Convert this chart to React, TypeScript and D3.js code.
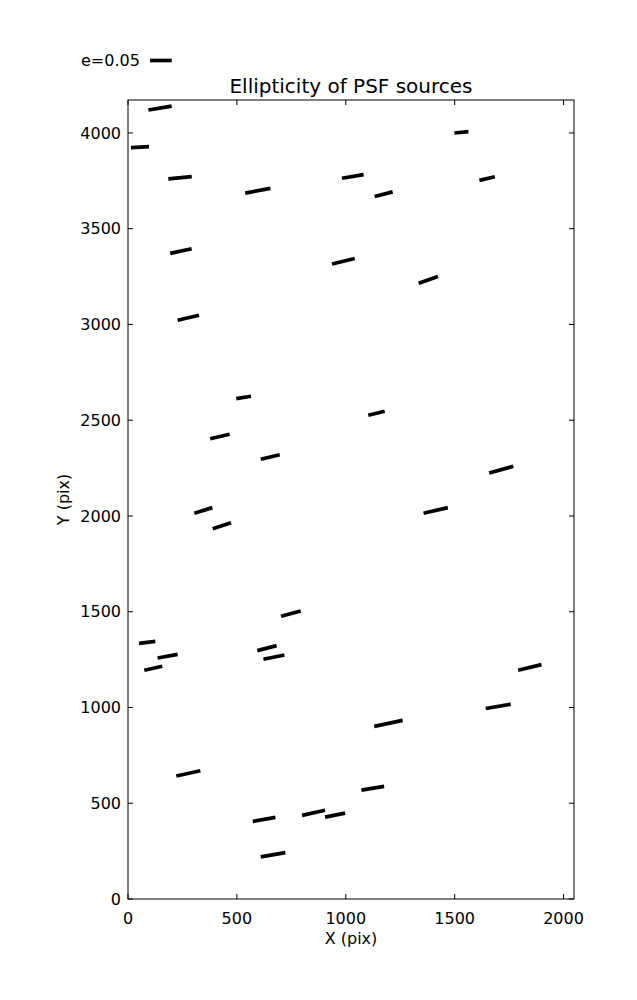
import React from "react";
import * as d3 from "d3";

// Source positions (detector pix), ellipticity and position angle (deg, on screen)
const srcX = [147, 55, 239, 596, 243, 989, 1531, 1032, 1174, 1649, 1379, 277, 531, 422, 653, 1141, 1714, 346, 431, 748, 88, 182, 116, 638, 670, 1413, 1845, 277, 625, 852, 951, 666, 1196, 1700, 1124];
const srcY = [4130, 3926, 3766, 3698, 3383, 3330, 4003, 3773, 3680, 3762, 3233, 3035, 2619, 2415, 2308, 2536, 2242, 2029, 1949, 1490, 1340, 1268, 1205, 1310, 1263, 2029, 1209, 656, 416, 450, 438, 231, 917, 1006, 578];
const ellip = [0.0544, 0.0415, 0.0542, 0.0592, 0.0505, 0.0539, 0.0325, 0.0507, 0.0429, 0.0364, 0.047, 0.0505, 0.0343, 0.0459, 0.0449, 0.039, 0.058, 0.0435, 0.0445, 0.047, 0.0378, 0.0468, 0.0424, 0.0461, 0.0493, 0.0574, 0.0553, 0.0567, 0.053, 0.0541, 0.047, 0.0576, 0.0668, 0.0585, 0.053];
const angleDeg = [9.7, 3.2, 5.6, 10.5, 12.1, 13.9, 5.3, 9.4, 14.6, 13.2, 19.1, 13.2, 9.3, 12.8, 13.6, 13.7, 15.4, 17.3, 18.2, 15.1, 7, 10.5, 12.5, 14.5, 11.6, 13, 13.5, 12.5, 10, 12.3, 11.3, 9.9, 11.9, 9.8, 9.3];

const xTicks = [0, 500, 1000, 1500, 2000];
const yTicks = [0, 500, 1000, 1500, 2000, 2500, 3000, 3500, 4000];
const xDomain = [0, 2048];
const yDomain = [0, 4172];
const keyE = 0.05;

export default function App() {
  const W = 637, H = 1000;
  const L = 128, R = 574, T = 100, B = 899;
  const x = d3.scaleLinear().domain(xDomain).range([L, R]);
  const y = d3.scaleLinear().domain(yDomain).range([B, T]);
  const len = d3.scaleLinear().domain([0, keyE]).range([0, 21.7]);
  const font = "DejaVu Sans";
  const tk = 5;

  const segs = srcX.map((sx, i) => {
    const cx = x(sx), cy = y(srcY[i]);
    const half = len(ellip[i]) / 2;
    const a = (angleDeg[i] * Math.PI) / 180;
    const dx = Math.cos(a) * half, dy = -Math.sin(a) * half;
    return { x1: cx - dx, y1: cy - dy, x2: cx + dx, y2: cy + dy };
  });

  return (
    <svg width={W} height={H} style={{ position: "absolute", left: 0, top: 0, background: "#fff" }} fontFamily={font}>
      <rect x={0} y={0} width={W} height={H} fill="#fff" />
      {segs.map((s, i) => (
        <line key={i} x1={s.x1} y1={s.y1} x2={s.x2} y2={s.y2} stroke="#000" strokeWidth={3.7} strokeLinecap="butt" />
      ))}
      {xTicks.map((t) => (
        <g key={"x" + t}>
          <line x1={x(t)} x2={x(t)} y1={B} y2={B - tk} stroke="#000" strokeWidth={1} />
          <line x1={x(t)} x2={x(t)} y1={T} y2={T + tk} stroke="#000" strokeWidth={1} />
          <text x={x(t)} y={924} fontSize={16} textAnchor="middle">{t}</text>
        </g>
      ))}
      {yTicks.map((t) => (
        <g key={"y" + t}>
          <line x1={L} x2={L + tk} y1={y(t)} y2={y(t)} stroke="#000" strokeWidth={1} />
          <line x1={R} x2={R - tk} y1={y(t)} y2={y(t)} stroke="#000" strokeWidth={1} />
          <text x={121} y={y(t)} dy="0.36em" fontSize={16} textAnchor="end">{t}</text>
        </g>
      ))}
      <rect x={L} y={T} width={R - L} height={B - T} fill="none" stroke="#000" strokeWidth={1} />
      <text x={(L + R) / 2} y={944} fontSize={16} textAnchor="middle">X (pix)</text>
      <text transform={`translate(69,${(T + B) / 2}) rotate(-90)`} fontSize={16} textAnchor="middle">Y (pix)</text>
      <text x={(L + R) / 2} y={93} fontSize={20} textAnchor="middle">Ellipticity of PSF sources</text>
      <text x={81} y={66} fontSize={16}>e=0.05</text>
      <line x1={150} x2={150 + len(keyE)} y1={60.5} y2={60.5} stroke="#000" strokeWidth={3.7} />
    </svg>
  );
}
